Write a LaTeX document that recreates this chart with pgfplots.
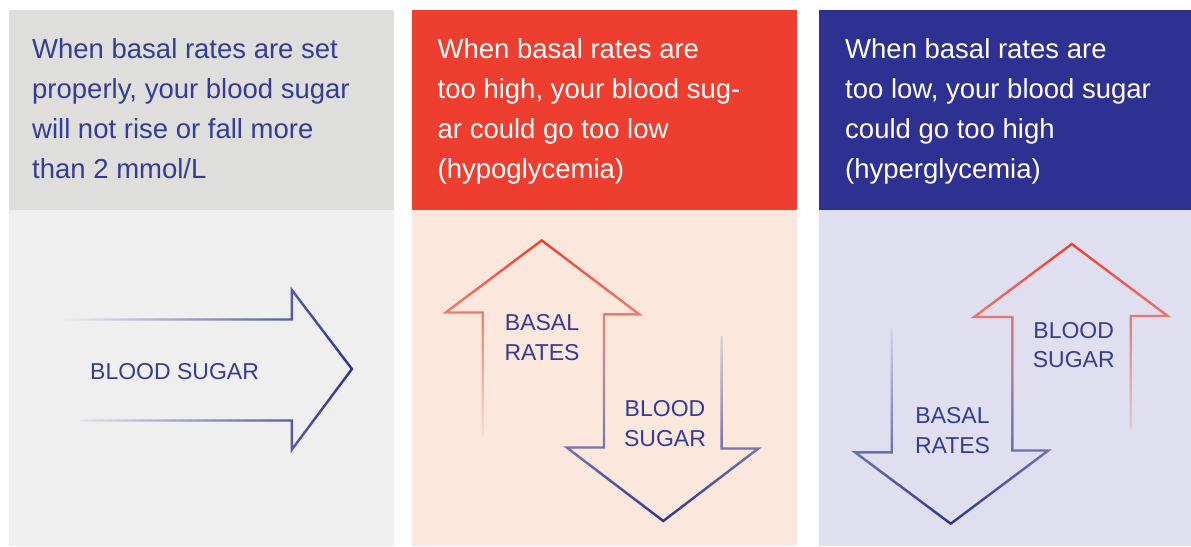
\documentclass[border=0pt]{standalone}
\usepackage{fontspec}
\setmainfont{Liberation Sans}
\usepackage{pgfplots}
\pgfplotsset{compat=1.18}
\usetikzlibrary{fadings}
\definecolor{hdrgray}{HTML}{DEDFDD}
\definecolor{bodygray}{HTML}{EFEFEF}
\definecolor{hdrred}{HTML}{EE3E2F}
\definecolor{bodyred}{HTML}{FCE7DD}
\definecolor{hdrnavy}{HTML}{2E3192}
\definecolor{bodynavy}{HTML}{DFDFEF}
\definecolor{txtnavy}{HTML}{363B95}
\definecolor{arrred}{HTML}{EE3E2F}
\definecolor{arrblue}{HTML}{2E3192}
\tikzfading[name=fadeA, left color=transparent!100, middle color=transparent!0, right color=transparent!0]
\tikzfading[name=fadeRed, top color=transparent!0, middle color=transparent!5, bottom color=transparent!100]
\tikzfading[name=fadeBlue, top color=transparent!100, middle color=transparent!35, bottom color=transparent!0]
\newcommand{\hdr}{\fontsize{27.5}{33}\selectfont}
\newcommand{\lbl}{\fontsize{23}{28}\selectfont}
\tikzset{every node/.append style={inner sep=0pt}}
\begin{document}
\begin{tikzpicture}
\begin{axis}[width=1191pt,height=546pt,scale only axis,
  xmin=0,xmax=1191,ymin=0,ymax=546,y dir=reverse,
  axis lines=none, clip=false]
% page background
\addplot[draw=none, fill=white] coordinates {(0,0)(1191,0)(1191,546)(0,546)} -- cycle;
% panels
\addplot[draw=none, fill=hdrgray] coordinates {(9,10)(394,10)(394,210)(9,210)} -- cycle;
\addplot[draw=none, fill=bodygray] coordinates {(9,210)(394,210)(394,546)(9,546)} -- cycle;
\addplot[draw=none, fill=hdrred] coordinates {(412,10)(797,10)(797,210)(412,210)} -- cycle;
\addplot[draw=none, fill=bodyred] coordinates {(412,210)(797,210)(797,546)(412,546)} -- cycle;
\addplot[draw=none, fill=hdrnavy] coordinates {(819,10)(1191,10)(1191,210)(819,210)} -- cycle;
\addplot[draw=none, fill=bodynavy] coordinates {(819,210)(1191,210)(1191,546)(819,546)} -- cycle;
% header texts
\node[anchor=base west, text=txtnavy, font=\hdr] at (axis cs:32,58.5) {When basal rates are set};
\node[anchor=base west, text=txtnavy, font=\hdr] at (axis cs:32,98.6) {properly, your blood sugar};
\node[anchor=base west, text=txtnavy, font=\hdr] at (axis cs:32,138.7) {will not rise or fall more};
\node[anchor=base west, text=txtnavy, font=\hdr] at (axis cs:32,178.7) {than 2 mmol/L};
\node[anchor=base west, text=white, font=\hdr] at (axis cs:437.5,58.5) {When basal rates are};
\node[anchor=base west, text=white, font=\hdr] at (axis cs:437.5,98.6) {too high, your blood sug-};
\node[anchor=base west, text=white, font=\hdr] at (axis cs:437.5,138.7) {ar could go too low};
\node[anchor=base west, text=white, font=\hdr] at (axis cs:437.5,178.7) {(hypoglycemia)};
\node[anchor=base west, text=white, font=\hdr] at (axis cs:845,58.5) {When basal rates are};
\node[anchor=base west, text=white, font=\hdr] at (axis cs:845,98.6) {too low, your blood sugar};
\node[anchor=base west, text=white, font=\hdr] at (axis cs:845,138.7) {could go too high};
\node[anchor=base west, text=white, font=\hdr] at (axis cs:845,178.7) {(hyperglycemia)};
% panel 1 arrow
\addplot[draw=arrblue, line width=2.4pt, line join=miter, path fading=fadeA]
  coordinates {(62,319.5)(292,319.5)(292,290)(352,369)(292,449.5)(292,420.5)(80,420.5)};
\node[anchor=base west, text=txtnavy, font=\lbl] at (axis cs:90,379) {BLOOD SUGAR};
% panel 2 arrows
\addplot[draw=arrred, line width=2.4pt, line join=miter, path fading=fadeRed]
  coordinates {(482.7,435.5)(482.7,312.5)(445.7,312.5)(541.7,240.4)(639.3,314.3)(604,314.3)(604,447)};
\addplot[draw=arrblue, line width=2.4pt, line join=miter, path fading=fadeBlue]
  coordinates {(604,314.3)(604,447.5)(566.7,447.5)(663.3,521)(758.3,448.5)(721.7,448.5)(721.7,336)};
\node[anchor=base, text=txtnavy, font=\lbl] at (axis cs:542,330) {BASAL};
\node[anchor=base, text=txtnavy, font=\lbl] at (axis cs:542,360) {RATES};
\node[anchor=base, text=txtnavy, font=\lbl] at (axis cs:665,416) {BLOOD};
\node[anchor=base, text=txtnavy, font=\lbl] at (axis cs:665,446) {SUGAR};
% panel 3 arrows
\addplot[draw=arrred, line width=2.4pt, line join=miter, path fading=fadeRed]
  coordinates {(1012.3,452)(1012.3,317)(974,317)(1071.7,244)(1167.7,316)(1130.7,316)(1130.7,428.6)};
\addplot[draw=arrblue, line width=2.4pt, line join=miter, path fading=fadeBlue]
  coordinates {(891.7,327.5)(891.7,452.3)(855,452.3)(950.7,523.7)(1048.3,450.5)(1012.3,450.5)(1012.3,317)};
\node[anchor=base, text=txtnavy, font=\lbl] at (axis cs:1073.7,338) {BLOOD};
\node[anchor=base, text=txtnavy, font=\lbl] at (axis cs:1073.7,367) {SUGAR};
\node[anchor=base, text=txtnavy, font=\lbl] at (axis cs:952.5,423) {BASAL};
\node[anchor=base, text=txtnavy, font=\lbl] at (axis cs:952.5,453) {RATES};
\end{axis}
\end{tikzpicture}
\end{document}
